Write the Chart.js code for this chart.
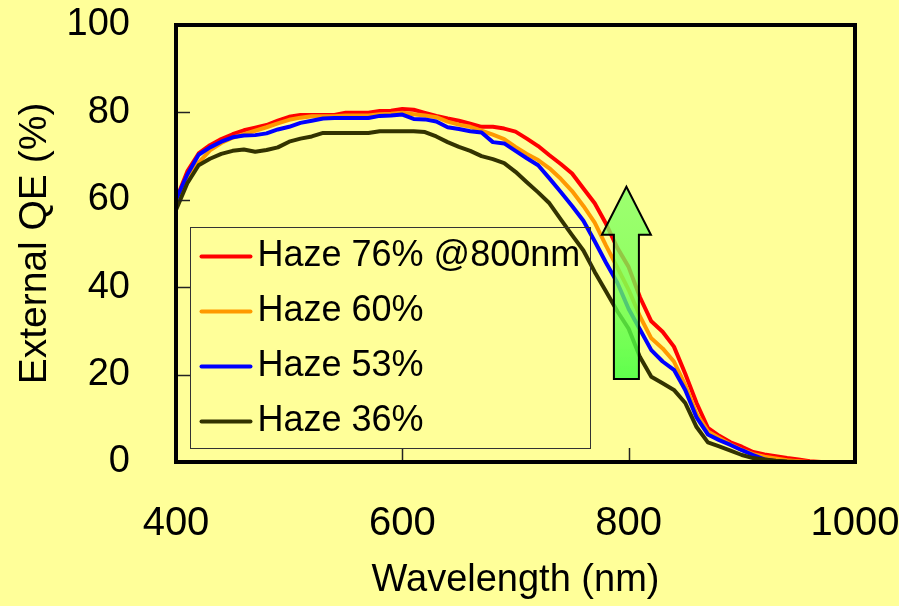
<!DOCTYPE html>
<html><head><meta charset="utf-8">
<script src="https://cdn.jsdelivr.net/npm/chart.js@4/dist/chart.umd.min.js"></script>
<style>html,body{margin:0;padding:0;background:#FFFF99;}canvas{display:block}</style>
</head><body>
<canvas id="c" width="899" height="606"></canvas>
<script>
// ---- data ----
const wavelengths = [400,410,420,430,440,450,460,470,480,490,500,510,520,530,540,550,560,570,580,590,600,610,620,630,640,650,660,670,680,690,700,710,720,730,740,750,760,770,780,790,800,810,820,830,840,850,860,870,880,890,900,910,920,930,940,950,960,970,980,990,1000];
const haze76 = [60,66.5,70.6,72.5,73.9,75,75.9,76.5,77.1,78.1,79,79.4,79.4,79.4,79.4,79.9,79.9,79.9,80.3,80.4,80.8,80.6,79.9,79.2,78.6,78.1,77.4,76.7,76.7,76.3,75.6,74,72.3,70.2,68.2,66,62.6,59.2,54.5,49,44.6,37.7,32.2,29.8,26.4,20.2,13.5,7.8,6,4.5,3.5,2.3,1.7,1.3,0.9,0.6,0.2,0,0,0,0];
const haze60 = [60,64.5,68.5,71.3,73,74.2,75,75.8,76.6,77.5,78.3,78.8,79.1,79.1,79.1,79.3,79.3,79.3,79.6,79.7,79.9,79.6,79.3,78.9,77.9,77.2,76.7,75.8,74.9,73.9,72.1,70.5,69.1,67.2,64.8,62,58.6,54.8,49.5,44.5,39.4,33.3,28.3,26,23,17.6,11,7,5.5,4,2.8,1.8,1.2,0.8,0.4,0.2,0,0,0,0,0];
const haze53 = [60,65.8,70.3,72,73.3,74.3,74.7,74.8,75.2,76.1,76.7,77.6,78.1,78.6,78.7,78.7,78.7,78.7,79.2,79.3,79.5,78.5,78.4,77.9,76.6,76.2,75.7,75.4,73.2,72.9,71.2,69.5,67.9,64.9,61.8,58.6,55.2,50.5,45.6,41,35,30.3,25.6,23,21.1,16.5,10.2,6.3,5,3.9,2.7,1.6,0.6,0.2,0,0,0,0,0,0,0];
const haze36 = [57.7,63.8,67.9,69.4,70.5,71.2,71.5,71,71.4,72,73.3,74,74.5,75.3,75.3,75.3,75.3,75.3,75.7,75.7,75.7,75.7,75.5,74.5,73.2,72.1,71.2,70,69.3,68.4,66.4,64,61.7,59.2,55.5,51.9,48.4,43.5,39,34.5,30.5,24,19.5,18,16.5,13.5,8,4.5,3.6,2.6,1.6,0.9,0.6,0.3,0.1,0,0,0,0,0,0];
const seriesLabels = ['Haze 76% @800nm','Haze 60%','Haze 53%','Haze 36%'];
const xTicks = [400,600,800,1000];
const yTicks = [0,20,40,60,80,100];
// arrow annotation (data units)
const arrowWavelength = 798, arrowFromQE = 19, arrowHeadQE = 52, arrowToQE = 63;

// ---- styles ----
const FONT = "'Liberation Sans', Arial, sans-serif";
const colors = ['#FF0000','#FF9900','#0000FF','#333300'];
const seriesData = [haze76, haze60, haze53, haze36];

const decor = {
  id: 'decor',
  afterDatasetsDraw(chart) {
    const {ctx, chartArea: a, scales: {x, y}} = chart;
    ctx.save();
    // arrow
    const cx = x.getPixelForValue(arrowWavelength);
    const yb = y.getPixelForValue(arrowFromQE), yh = y.getPixelForValue(arrowHeadQE), yt = y.getPixelForValue(arrowToQE);
    const sw = 12.5, hw = 24.5;
    ctx.beginPath();
    ctx.moveTo(cx - sw, yb); ctx.lineTo(cx - sw, yh); ctx.lineTo(cx - hw, yh); ctx.lineTo(cx, yt);
    ctx.lineTo(cx + hw, yh); ctx.lineTo(cx + sw, yh); ctx.lineTo(cx + sw, yb); ctx.closePath();
    const g = ctx.createLinearGradient(0, yt, 0, yb);
    g.addColorStop(0, 'rgba(130,255,100,0.78)');
    g.addColorStop(0.55, 'rgba(110,255,80,0.78)');
    g.addColorStop(1, 'rgba(60,255,60,0.82)');
    ctx.fillStyle = g; ctx.fill();
    ctx.lineWidth = 2; ctx.strokeStyle = '#000'; ctx.lineJoin = 'miter'; ctx.stroke();
    // inner tick marks
    ctx.strokeStyle = '#222'; ctx.lineWidth = 1.5;
    yTicks.forEach(v => {
      if (v > 0 && v < 100) {
        const py = Math.round(y.getPixelForValue(v)) + 0.5;
        ctx.beginPath(); ctx.moveTo(a.left, py); ctx.lineTo(a.left + 14, py); ctx.stroke();
      }
    });
    xTicks.forEach(v => {
      if (v > 400 && v < 1000) {
        const px = Math.round(x.getPixelForValue(v)) + 0.5;
        ctx.beginPath(); ctx.moveTo(px, a.bottom); ctx.lineTo(px, a.bottom - 14); ctx.stroke();
      }
    });
    // frame
    ctx.lineWidth = 4; ctx.strokeStyle = '#000';
    ctx.strokeRect(a.left, a.top, a.right - a.left, a.bottom - a.top);
    // legend box
    const lx = a.left + 14.5, ly = a.top + 202.5, lw = 400, lh = 221;
    ctx.lineWidth = 1; ctx.strokeStyle = '#333';
    ctx.strokeRect(lx, ly, lw, lh);
    ctx.font = '36px ' + FONT; ctx.textBaseline = 'middle'; ctx.textAlign = 'left'; ctx.fillStyle = '#000';
    chart.data.datasets.forEach((ds, i) => {
      const ry = ly + 29 + i * 55;
      ctx.strokeStyle = ds.borderColor; ctx.lineWidth = 4; ctx.lineCap = 'round';
      ctx.beginPath(); ctx.moveTo(lx + 11, ry); ctx.lineTo(lx + 60, ry); ctx.stroke();
      ctx.fillText(ds.label, lx + 67, ry);
    });
    ctx.restore();
  }
};

new Chart(document.getElementById('c'), {
  type: 'line',
  data: {
    datasets: seriesData.map((arr, i) => ({
      label: seriesLabels[i],
      data: wavelengths.map((w, j) => ({x: w, y: arr[j]})),
      borderColor: colors[i],
      backgroundColor: colors[i],
      borderWidth: 4,
      pointRadius: 0,
      tension: 0,
      borderJoinStyle: 'round',
      fill: false,
      order: 4 - i
    }))
  },
  options: {
    responsive: false, animation: false, devicePixelRatio: 1,
    layout: {padding: {left: 0, top: 25, right: 44, bottom: 0}},
    plugins: {legend: {display: false}, tooltip: {enabled: false}},
    scales: {
      x: {
        type: 'linear', min: 400, max: 1000,
        afterBuildTicks: s => { s.ticks = xTicks.map(v => ({value: v})); },
        ticks: {font: {size: 40, family: FONT}, color: '#000', padding: 38, maxRotation: 0, autoSkip: false, callback: v => String(v)},
        grid: {display: false, drawTicks: false},
        border: {display: false},
        title: {display: true, text: 'Wavelength (nm)', color: '#000', font: {size: 38, family: FONT}, padding: {top: 0, bottom: 3}},
        afterFit: s => { s.height = 144; s.paddingLeft = 0; s.paddingRight = 0; }
      },
      y: {
        type: 'linear', min: 0, max: 100,
        afterBuildTicks: s => { s.ticks = yTicks.map(v => ({value: v})); },
        ticks: {font: {size: 38, family: FONT}, color: '#000', padding: 46, autoSkip: false, callback: v => String(v)},
        grid: {display: false, drawTicks: false},
        border: {display: false},
        title: {display: true, text: 'External QE (%)', color: '#000', font: {size: 39, family: FONT}, padding: {top: 12, bottom: 0}},
        afterFit: s => { s.width = 176; s.paddingTop = 0; s.paddingBottom = 0; }
      }
    }
  },
  plugins: [decor]
});
</script>
</body></html>
